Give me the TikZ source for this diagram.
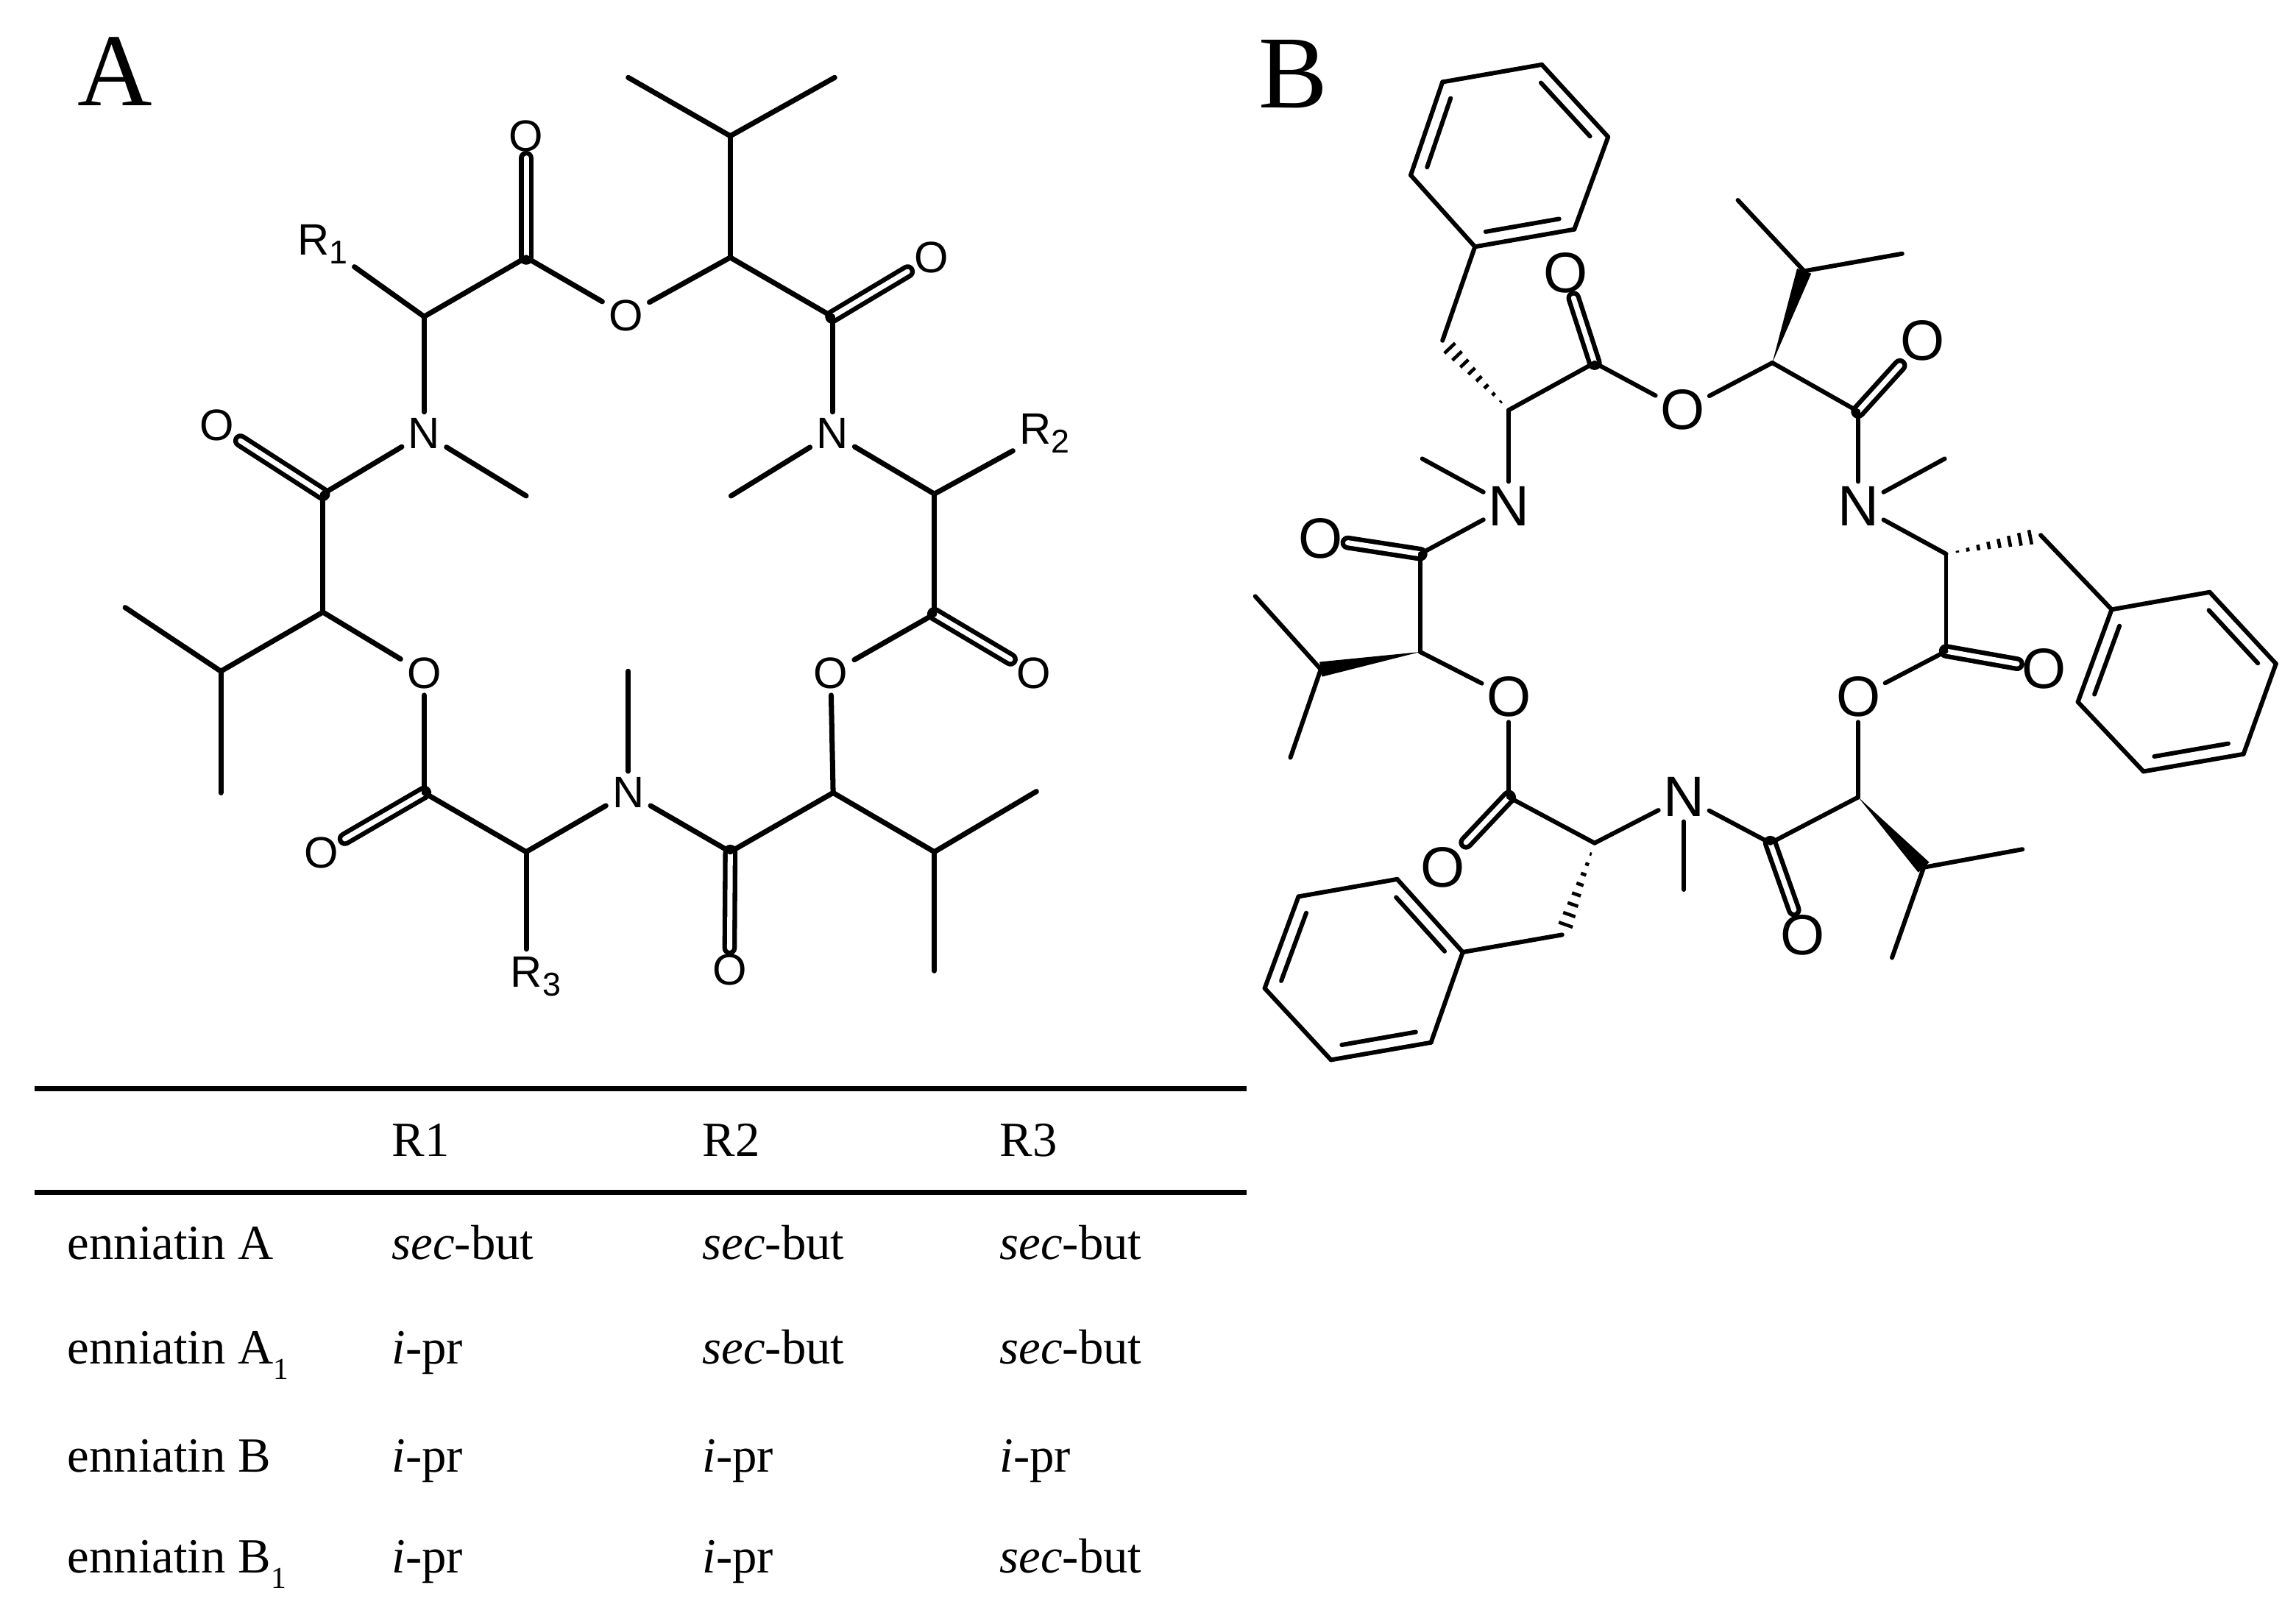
\documentclass[tikz,border=0pt]{standalone}
\usepackage{fontspec}
\setmainfont{Liberation Serif}
\setsansfont{Liberation Sans}
\usetikzlibrary{calc}

\newcommand{\lowsub}[1]{\raisebox{-.32em}{\scalebox{.62}{#1}}}
\newcommand{\rsub}[1]{\raisebox{-.2em}{\scalebox{.75}{#1}}}
\newcommand{\secb}{\textit{sec}-but}
\newcommand{\ipr}{\textit{i}-pr}

\newcommand{\wedgebond}[2]{\fill (#1) -- ($(#2)!2.9pt!90:(#1)$) -- ($(#2)!2.9pt!-90:(#1)$) -- cycle;}
\newcommand{\hashbond}[2]{\foreach \t in {.12,.23,.34,.45,.56,.67,.78,.89,1} {
  \draw[line width=1.3pt,line cap=butt] ($(#1)!\t!(#2)!\t*3.2pt!90:(#2)$) -- ($(#1)!\t!(#2)!\t*3.2pt!-90:(#2)$);
}}
\newcommand{\innerbond}[2]{\draw ($(#1)!.13!(#2)!5pt!90:(#2)$) -- ($(#2)!.13!(#1)!5pt!-90:(#1)$);}

\tikzset{
  bond/.style={line width=2pt, line cap=round},
  dbond/.style={line width=1.8pt, double, double distance=2pt},
  atoma/.style={font=\sffamily\fontsize{17}{18}\selectfont, inner sep=1.5pt},
  atomb/.style={font=\sffamily\fontsize{22}{24}\selectfont, inner sep=1pt},
  panel/.style={font=\fontsize{40}{42}\selectfont, anchor=base west, inner sep=0pt},
  cell/.style={font=\fontsize{19}{21}\selectfont, anchor=base west, inner sep=0pt},
  rule/.style={line width=2pt}
}

\begin{document}
\begin{tikzpicture}
\useasboundingbox (0,0) rectangle (31.2,-21.87);

\node[panel] (panelA) at (1.05,-1.43) {A};
\node[panel] (panelB) at (17.1,-1.46) {B};

% structure with R groups
\begin{scope}[x=.01084cm,y=-.00893cm,bond]
\foreach \n/\x/\y/\t in {aO1/785/480/O, aO2/532/1025/O, aO3/1042/1025/O,
                         aN1/532/660/N, aN2/1044/660/N, aN3/788/1207/N,
                         aO4/660/207/O, aO5/1168/392/O, aO6/272/648/O,
                         aO7/1297/1025/O, aO8/403/1298/O, aO9/915/1477/O,
                         aR1/405/372/R\rsub{1}, aR2/1310/660/R\rsub{2}, aR3/672/1487/R\rsub{3}}
  \node[atoma] (\n) at (\x,\y) {\t};
\foreach \n/\x/\y in {a1/916/392, a2/660/392, a3/532/482, a4/405/752, a5/405/932,
                      a6/532/1207, a7/660/1297, a8/916/1297, a9/1045/1207,
                      a10/1172/935, a11/1172/752, a12/1044/482,
                      a13/916/207, a14/788/118, a15/1047/118,
                      a16/277/1022, a17/157/925, a18/277/1207,
                      a19/1172/1297, a20/1300/1205, a21/1172/1478,
                      a22/660/755, a23/917/755, a24/788/1022, a25/660/1445}
  \coordinate (\n) at (\x,\y);

\foreach \p/\q in {a2/aO4, a12/aO5, a4/aO6, a10/aO7, a6/aO8, a8/aO9}
  \draw[dbond] (\p) -- (\q);

\foreach \p/\q in {a1/aO1, aO1/a2, a2/a3, a3/aN1, aN1/a4, a4/a5, a5/aO2, aO2/a6, a6/a7,
                   a7/aN3, aN3/a8, a8/a9, a9/aO3, aO3/a10, a10/a11, a11/aN2, aN2/a12, a12/a1,
                   a1/a13, a13/a14, a13/a15, a5/a16, a16/a17, a16/a18, a9/a19, a19/a20, a19/a21,
                   a3/aR1, a11/aR2, a7/a25, aN1/a22, aN2/a23, aN3/a24}
  \draw (\p) -- (\q);
\end{scope}

% phenyl structure
\begin{scope}[xshift=16.8cm,x=.00918cm,y=-.00944cm,line width=1.7pt,line cap=round]
\foreach \n/\x/\y/\t in {bO1/660/590/O, bO2/403/1003/O, bO3/920/1003/O,
                         bN1/403/728/N, bN2/920/728/N, bN3/662/1147/N,
                         bO4/487/393/O, bO5/1015/490/O, bO6/125/775/O,
                         bO7/1195/962/O, bO8/305/1248/O, bO9/838/1345/O}
  \node[atomb] (\n) at (\x,\y) {\t};
\foreach \n/\x/\y in {b1/403/590, b2/530/522, b3/793/522, b4/920/592, b5/1050/797, b6/1050/937,
                      b7/920/1147, b8/790/1213, b9/530/1213, b10/403/1147, b11/272/938, b12/272/797,
                      b13/840/390, b14/742/288, b15/985/365,
                      b16/1017/1248, b17/1163/1222, b18/970/1378,
                      b19/125/963, b20/28/858, b21/80/1090,
                      b22/305/490, b23/1190/770, b24/482/1345,
                      b25/275/660, b26/1048/660, b27/662/1280,
                      p1/353/355, p2/258/252, p3/305/118, p4/452/93, p5/550/197, p6/500/330,
                      q1/1295/877, q2/1440/852, q3/1538/955, q4/1490/1085, q5/1342/1110, q6/1245/1010,
                      s1/335/1370, s2/238/1265, s3/92/1290, s4/42/1422, s5/140/1525, s6/288/1500}
  \coordinate (\n) at (\x,\y);

\foreach \p/\q in {b2/bO4, b4/bO5, b12/bO6, b6/bO7, b10/bO8, b8/bO9}
  \draw[dbond] (\p) -- (\q);

\foreach \p/\q in {b1/b2, b2/bO1, bO1/b3, b3/b4, b4/bN2, bN2/b5, b5/b6, b6/bO3, bO3/b7, b7/b8, b8/bN3,
                   bN3/b9, b9/b10, b10/bO2, bO2/b11, b11/b12, b12/bN1, bN1/b1,
                   b13/b14, b13/b15, b16/b17, b16/b18, b19/b20, b19/b21,
                   bN1/b25, bN2/b26, bN3/b27, b22/p1, b23/q1, b24/s1,
                   p1/p2, p2/p3, p3/p4, p4/p5, p5/p6, p6/p1,
                   q1/q2, q2/q3, q3/q4, q4/q5, q5/q6, q6/q1,
                   s1/s2, s2/s3, s3/s4, s4/s5, s5/s6, s6/s1}
  \draw (\p) -- (\q);

\wedgebond{b3}{b13}
\wedgebond{b7}{b16}
\wedgebond{b11}{b19}
\hashbond{b1}{b22}
\hashbond{b5}{b23}
\hashbond{b9}{b24}

\innerbond{p3}{p2}
\innerbond{p5}{p4}
\innerbond{p1}{p6}
\innerbond{q1}{q6}
\innerbond{q3}{q2}
\innerbond{q5}{q4}
\innerbond{s1}{s2}
\innerbond{s3}{s4}
\innerbond{s5}{s6}
\end{scope}

% table
\coordinate (t1l) at (.47,-14.79);
\coordinate (t1r) at (16.94,-14.79);
\coordinate (t2l) at (.47,-16.20);
\coordinate (t2r) at (16.94,-16.20);
\draw[rule] (t1l) -- (t1r);
\draw[rule] (t2l) -- (t2r);

\node[cell] (hdr1) at (5.32,-15.71) {R1};
\node[cell] (hdr2) at (9.54,-15.71) {R2};
\node[cell] (hdr3) at (13.58,-15.71) {R3};

\foreach \n/\y/\name/\ra/\rb/\rc in {1/-17.11/enniatin A/\secb/\secb/\secb,
                                     2/-18.53/enniatin A\lowsub{1}/\ipr/\secb/\secb,
                                     3/-20.00/enniatin B/\ipr/\ipr/\ipr,
                                     4/-21.37/enniatin B\lowsub{1}/\ipr/\ipr/\secb} {
  \node[cell] (name\n) at (.91,\y) {\name};
  \node[cell] (ra\n) at (5.32,\y) {\ra};
  \node[cell] (rb\n) at (9.54,\y) {\rb};
  \node[cell] (rc\n) at (13.58,\y) {\rc};
}

\end{tikzpicture}
\end{document}
